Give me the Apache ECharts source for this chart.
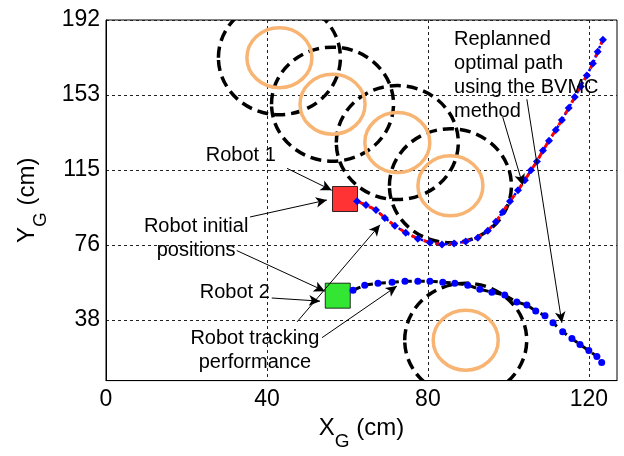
<!DOCTYPE html>
<html>
<head>
<meta charset="utf-8">
<script src="https://cdn.jsdelivr.net/npm/echarts@6/dist/echarts.min.js"></script>
<style>
  html, body { margin: 0; padding: 0; background: #fff; }
  #chart { width: 624px; height: 456px; }
</style>
</head>
<body>
<div id="chart"></div>
<script>
// axis ticks
const xTicks = [0, 40, 80, 120];
const yTicks = [38.4, 76.8, 115.2, 153.6, 192];
const yTickLabels = ['38', '76', '115', '153', '192'];

// obstacle centres
const obstacleX = [43.1, 56.3, 72.4, 85.6, 89.4];
const obstacleY = [172.7, 148.9, 129.2, 107.1, 28.0];

// robot 1 path (replanned / tracked)
const robot1X = [62.4, 64.6, 67.1, 69.3, 71.8, 74.5, 77.5, 80.5, 83.5, 86.5, 89.4, 92.4, 94.9, 96.9, 98.6,
  100.4, 102.4, 104.1, 105.6, 107.1, 108.6, 110.1, 111.8, 113.3, 115.0, 116.5, 118.0, 119.5, 121.0, 122.2, 123.5];
const robot1Y = [99.2, 97.2, 94.7, 90.6, 86.6, 83.0, 80.0, 78.0, 77.0, 77.5, 78.5, 80.5, 84.0, 88.6, 93.7,
  99.2, 104.8, 109.9, 115.0, 119.5, 125.1, 130.2, 135.7, 140.8, 146.9, 152.5, 158.0, 163.6, 169.7, 175.8, 181.9];

// robot 2 path
const robot2X = [61.4, 64.3, 67.6, 71.1, 74.3, 77.5, 80.5, 83.7, 86.7, 89.9, 92.9, 95.9, 99.1, 102.1, 104.6,
  106.8, 109.1, 111.1, 113.5, 115.8, 117.8, 120.0, 122.0, 123.2];
const robot2Y = [53.6, 56.2, 57.2, 57.7, 58.2, 58.2, 58.2, 57.7, 57.2, 56.2, 54.1, 52.6, 51.1, 47.6, 46.0,
  43.0, 40.5, 36.9, 32.3, 28.8, 25.8, 22.7, 19.7, 16.6];

// initial positions (robot 1, robot 2)
const startX = [59.4, 57.6];
const startY = [100.3, 50.8];

// annotations
const noteText = ['Robot 1', 'Robot initial\npositions', 'Robot 2', 'Robot tracking\nperformance',
  'Replanned\noptimal path\nusing the BVMC\nmethod'];
const noteX = [33.5, 22.4, 32.0, 37.0, 86.5];
const noteY = [122.6, 80.0, 52.6, 22.5, 163.6];
const arrowFromX = [45.0, 35.8, 32.5, 41.2, 47.5, 53.7, 98.6, 104.6];
const arrowFromY = [116.0, 91.1, 73.9, 49.6, 37.4, 29.3, 142.3, 151.4];
const arrowToX = [56.1, 54.9, 54.4, 53.2, 68.1, 72.3, 103.6, 113.3];
const arrowToY = [104.8, 99.8, 53.1, 48.0, 87.1, 55.7, 107.4, 36.9];

const FONT = 'Liberation Sans, Arial, sans-serif';
const HALO_SIZE = [122, 114];
const CORE_SIZE = [65, 60];
const START_COLORS = ['#ff0000', '#00e000'];
const NOTE_ALIGN = ['center', 'center', 'center', 'center', 'left'];

const pairs = (xs, ys) => xs.map((x, i) => [x, ys[i]]);

function ringSeries(size, style) {
  return {
    type: 'custom',
    clip: true,
    silent: true,
    data: pairs(obstacleX, obstacleY),
    renderItem: (params, api) => {
      const c = api.coord([api.value(0), api.value(1)]);
      return {
        type: 'ellipse',
        shape: { cx: c[0], cy: c[1], rx: size[0] / 2, ry: size[1] / 2 },
        style: Object.assign({ fill: 'none' }, style)
      };
    }
  };
}

const chart = echarts.init(document.getElementById('chart'));
chart.setOption({
  animation: false,
  grid: {
    left: 106, right: 7, top: 20, bottom: 72,
    containLabel: false,
    show: true, borderColor: '#000', borderWidth: 1
  },
  xAxis: {
    type: 'value', min: 0, max: 127,
    name: '{m|X}{s|G}{m| (cm)}',
    nameLocation: 'middle', nameGap: 18,
    nameTextStyle: {
      rich: {
        m: { fontSize: 24, fontFamily: FONT, color: '#000' },
        s: { fontSize: 19, fontFamily: FONT, color: '#000', padding: [26, 0, 0, 0] }
      }
    },
    axisLine: { lineStyle: { color: '#000' } },
    axisTick: { show: false, customValues: xTicks },
    axisLabel: { customValues: xTicks, fontSize: 23, fontFamily: FONT, color: '#000', margin: 8 },
    splitLine: { show: true, lineStyle: { color: '#222', type: [3, 3], width: 1 } }
  },
  yAxis: {
    type: 'value', min: 7.3, max: 192,
    name: '{m|Y}{s|G}{m| (cm)}',
    nameLocation: 'middle', nameGap: 56, nameRotate: 90,
    nameTextStyle: {
      rich: {
        m: { fontSize: 24, fontFamily: FONT, color: '#000' },
        s: { fontSize: 19, fontFamily: FONT, color: '#000', padding: [26, 0, 0, 0] }
      }
    },
    axisLine: { show: true, lineStyle: { color: '#000' } },
    axisTick: { show: false, customValues: yTicks },
    axisLabel: {
      customValues: yTicks, fontSize: 23, fontFamily: FONT, color: '#000', margin: 6,
      formatter: v => {
        let best = 0;
        yTicks.forEach((t, i) => { if (Math.abs(t - v) < Math.abs(yTicks[best] - v)) best = i; });
        return yTickLabels[best];
      }
    },
    splitLine: { show: true, lineStyle: { color: '#222', type: [3, 3], width: 1 } }
  },
  series: [
    ringSeries(HALO_SIZE, { stroke: '#000', lineWidth: 3.5, lineDash: [11, 6] }),
    ringSeries(CORE_SIZE, { stroke: '#f8b473', lineWidth: 3.5 }),
    {
      // annotation arrows and texts
      type: 'line',
      data: [],
      silent: true,
      markLine: {
        silent: true,
        symbol: ['none', 'arrow'],
        symbolSize: [8, 11],
        label: { show: false },
        lineStyle: { color: '#000', width: 1, type: 'solid' },
        emphasis: { disabled: true },
        data: arrowFromX.map((x, i) => [
          { coord: [x, arrowFromY[i]] },
          { coord: [arrowToX[i], arrowToY[i]] }
        ])
      },
      markPoint: {
        silent: true,
        symbol: 'circle',
        symbolSize: 0,
        data: noteText.map((t, i) => ({
          name: t,
          coord: [noteX[i], noteY[i]],
          label: { align: NOTE_ALIGN[i] }
        })),
        label: {
          show: true,
          position: 'inside',
          formatter: '{b}',
          fontSize: 20,
          lineHeight: 24,
          fontFamily: FONT,
          color: '#000',
          verticalAlign: 'middle'
        }
      }
    },
    {
      // robot 1 tracking
      type: 'line',
      data: pairs(robot1X, robot1Y),
      symbol: 'diamond',
      symbolSize: 8,
      showSymbol: true,
      itemStyle: { color: '#0000ff' },
      lineStyle: { color: '#0000ff', width: 2.5, type: 'dotted' }
    },
    {
      // robot 1 replanned path
      type: 'line',
      data: pairs(robot1X, robot1Y),
      symbol: 'none',
      lineStyle: { color: '#ff0000', width: 3, type: [8, 5] }
    },
    {
      // robot 2 path
      type: 'line',
      data: pairs(robot2X, robot2Y),
      symbol: 'circle',
      symbolSize: 7,
      showSymbol: true,
      itemStyle: { color: '#0000ff', borderWidth: 0 },
      lineStyle: { color: '#000', width: 3, type: [8, 5] }
    },
    {
      type: 'scatter',
      symbol: 'rect',
      symbolSize: 25,
      data: startX.map((x, i) => ({
        value: [x, startY[i]],
        itemStyle: { color: START_COLORS[i], borderColor: '#000', borderWidth: 1 }
      }))
    }
  ]
});
</script>
</body>
</html>
